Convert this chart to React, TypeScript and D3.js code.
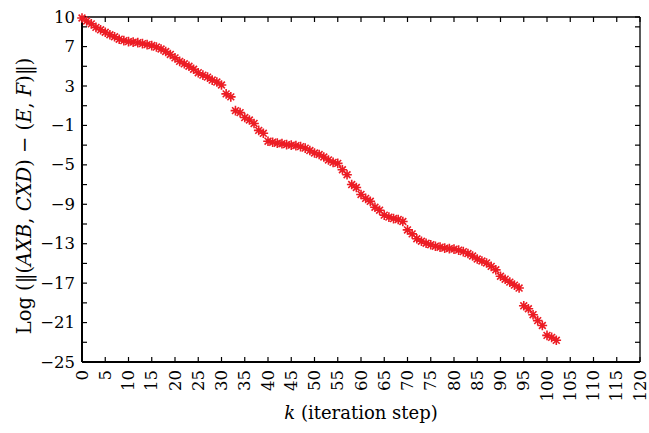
import React from "react";
import * as d3 from "d3";

const steps: number[] = d3.range(0, 103);
const logResidual: number[] = [
  9.9, 9.6, 9.3, 8.95, 8.7, 8.45, 8.2, 8.0, 7.75, 7.6,
  7.5, 7.45, 7.4, 7.3, 7.2, 7.1, 6.95, 6.75, 6.5, 6.2,
  5.85, 5.5, 5.25, 5.0, 4.7, 4.35, 4.1, 3.9, 3.6, 3.4,
  3.1, 2.2, 1.9, 0.5, 0.3, -0.2, -0.45, -0.8, -1.5, -1.8,
  -2.6, -2.7, -2.8, -2.85, -2.95, -3.0, -3.05, -3.15, -3.3, -3.55,
  -3.8, -3.95, -4.2, -4.5, -4.75, -4.85, -5.5, -6.0, -7.0, -7.3,
  -8.0, -8.4, -8.7, -9.3, -9.6, -10.1, -10.3, -10.45, -10.55, -10.75,
  -11.6, -12.0, -12.5, -12.75, -12.95, -13.1, -13.25, -13.35, -13.45, -13.5,
  -13.55, -13.65, -13.8, -14.0, -14.25, -14.55, -14.75, -14.95, -15.3, -15.65,
  -16.3, -16.6, -16.9, -17.2, -17.5, -19.3, -19.6, -20.2, -20.8, -21.3,
  -22.3, -22.5, -22.8,
];
const xTicks: number[] = d3.range(0, 121, 5);
const yTicks: number[] = [10, ...d3.range(-25, 10, 2)];
const yLabels: number[] = [10, 7, 3, -1, -5, -9, -13, -17, -21, -25];

const W = 649;
const H = 433;
const margin = { left: 82, right: 9, top: 17, bottom: 71 };
const FONT = "'DejaVu Serif', serif";
const RED = "#ec1c24";

const fmt = (v: number) => (v < 0 ? "\u2212" + Math.abs(v) : String(v));

export default function App() {
  const x = d3.scaleLinear().domain([0, 120]).range([margin.left, W - margin.right]);
  const y = d3.scaleLinear().domain([-25, 10]).range([H - margin.bottom, margin.top]);
  const x0 = x(0), x1 = x(120), y0 = y(-25), y1 = y(10);
  const tick = 5;
  const a = 4.8, b = 3.4;
  const star = `M${-a},0L${a},0M0,${-a}L0,${a}M${-b},${-b}L${b},${b}M${-b},${b}L${b},${-b}`;

  return (
    <div style={{ position: "absolute", left: 0, top: 0 }}>
      <svg width={W} height={H} style={{ display: "block", background: "#fff" }}>
        {/* frame */}
        <line x1={x0} x2={x1} y1={y1} y2={y1} stroke="#000" strokeWidth={1.3} />
        <line x1={x1} x2={x1} y1={y1} y2={y0} stroke="#000" strokeWidth={1.3} />
        <line x1={x0} x2={x1} y1={y0} y2={y0} stroke="#000" strokeWidth={2} />
        <line x1={x0} x2={x0} y1={y1} y2={y0} stroke="#000" strokeWidth={2} />
        {/* x ticks */}
        {xTicks.map((t) => (
          <g key={"xt" + t}>
            <line x1={x(t)} x2={x(t)} y1={y0} y2={y0 - tick} stroke="#000" strokeWidth={1.2} />
            <line x1={x(t)} x2={x(t)} y1={y1} y2={y1 + tick} stroke="#000" strokeWidth={1.2} />
            <text
              transform={`translate(${x(t)},${y0 + 8}) rotate(-90)`}
              textAnchor="end"
              dominantBaseline="central"
              fontFamily={FONT}
              fontSize={16.5}
              fill="#000"
            >
              {t}
            </text>
          </g>
        ))}
        {/* y ticks */}
        {yTicks.map((t) => (
          <g key={"yt" + t}>
            <line x1={x0} x2={x0 + tick} y1={y(t)} y2={y(t)} stroke="#000" strokeWidth={1.2} />
            <line x1={x1} x2={x1 - tick} y1={y(t)} y2={y(t)} stroke="#000" strokeWidth={1.2} />
          </g>
        ))}
        {yLabels.map((t) => (
          <text
            key={"yl" + t}
            x={x0 - 7}
            y={y(t)}
            textAnchor="end"
            dominantBaseline="central"
            fontFamily={FONT}
            fontSize={16.5}
            fill="#000"
          >
            {fmt(t)}
          </text>
        ))}
        {/* markers */}
        {logResidual.map((v, i) => (
          <path
            key={"m" + i}
            d={star}
            transform={`translate(${x(steps[i])},${y(v)})`}
            stroke={RED}
            strokeWidth={1.6}
            fill="none"
          />
        ))}
        {/* axis titles */}
        <text
          x={(x0 + x1) / 2}
          y={419}
          textAnchor="middle"
          fontFamily={FONT}
          fontSize={18}
          fill="#000"
        >
          <tspan fontStyle="italic">k</tspan>
          <tspan> (iteration step)</tspan>
        </text>
        <text
          transform={`translate(31,196) rotate(-90)`}
          textAnchor="middle"
          fontFamily={FONT}
          fontSize={19.5}
          fill="#000"
        >
          <tspan>Log (‖(</tspan>
          <tspan fontStyle="italic">AXB</tspan>
          <tspan>, </tspan>
          <tspan fontStyle="italic">CXD</tspan>
          <tspan>) − (</tspan>
          <tspan fontStyle="italic">E</tspan>
          <tspan>, </tspan>
          <tspan fontStyle="italic">F</tspan>
          <tspan>)‖)</tspan>
        </text>
      </svg>
    </div>
  );
}
